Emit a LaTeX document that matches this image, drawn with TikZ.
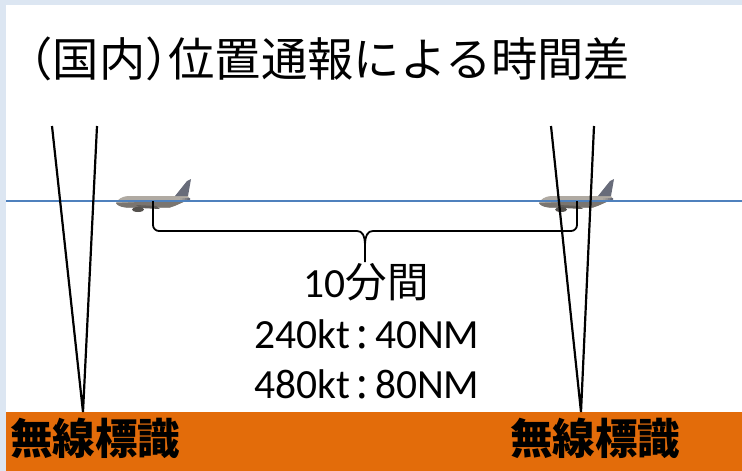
\documentclass[tikz,border=0pt]{standalone}
\usepackage{fontspec}
\setmainfont{Carlito}
\newfontfamily\jpfont{Noto Sans CJK JP}
\newfontfamily\jphalf[RawFeature=+halt]{Noto Sans CJK JP}
\usetikzlibrary{calc}

\definecolor{framebg}{RGB}{220,230,242}
\definecolor{ground}{RGB}{227,108,10}
\definecolor{skyline}{RGB}{79,129,189}
\definecolor{bodylight}{RGB}{176,170,162}
\definecolor{bodydark}{RGB}{122,117,112}
\definecolor{finblue}{RGB}{104,108,122}

% spaced colon between speed and distance
\newcommand{\jpcolon}{\hspace{0.16em}{\jpfont :}\hspace{0.16em}}

\tikzset{
  radioline/.style={line width=2.2pt, black},
  flightlevel/.style={line width=2pt, skyline},
  bracket/.style={line width=1.8pt, black},
  caption/.style={inner sep=0pt, font=\fontsize{41.5}{46}\selectfont},
  groundlabel/.style={inner sep=0pt, font=\jpfont\bfseries\fontsize{42.5}{46}\selectfont},
  airliner/.pic={
    % fuselage
    \fill[bodylight] (0,0) .. controls (2,-4) and (6,-6.5) .. (12,-7)
      -- (60,-7) -- (70,-7.5) -- (73,-6) -- (73,-3)
      .. controls (66,-1) and (60,3) .. (54,4.5) -- (10,4.5)
      .. controls (4,4) and (1,2) .. (0,0) -- cycle;
    \fill[bodydark] (0,0) -- (73,-3) .. controls (66,-1) and (60,3) .. (54,4.5)
      -- (10,4.5) .. controls (4,4) and (1,2) .. (0,0) -- cycle;
    % tail fin
    \fill[finblue] (59,-7) -- (71,-22) -- (75,-24) -- (72,-7) -- cycle;
    % horizontal stabiliser
    \fill[finblue] (64,-4) -- (74,-5) -- (74,-3) -- cycle;
    % wing and engine
    \fill[bodydark!80!black] (20,2) -- (40,3) -- (44,6) -- (24,5) -- cycle;
    \fill[bodydark!70!black] (22,6.5) ellipse (6 and 2.5);
  }
}

\begin{document}
\begin{tikzpicture}[x=1pt, y=-1pt]
  \useasboundingbox (0,0) rectangle (742,471);
  % slide frame and ground band
  \fill[framebg] (0,0) rectangle (742,471);
  \fill[white] (6,5) rectangle (742,471);
  \fill[ground] (6,412) rectangle (742,471);

  % title
  \node[inner sep=0pt, anchor=base, font=\jpfont\fontsize{46.3}{50}\selectfont]
    (title) at (330,76) {{\jphalf （}国内{\jphalf ）}位置通報による時間差};

  % aircraft
  \pic at (116,203) {airliner};
  \pic at (539,203) {airliner};

  % flight level
  \coordinate (levelW) at (6,201);
  \coordinate (levelE) at (742,201);
  \draw[flightlevel] (levelW) -- (levelE);

  % radio beacons and their cones
  \coordinate (beaconA) at (83,412);
  \coordinate (coneA1) at (52,126);
  \coordinate (coneA2) at (97,126);
  \coordinate (beaconB) at (581,412);
  \coordinate (coneB1) at (551,126);
  \coordinate (coneB2) at (594,126);
  \draw[radioline] (coneA1) -- (beaconA) -- (coneA2);
  \draw[radioline] (coneB1) -- (beaconB) -- (coneB2);

  % brace between the two positions
  \coordinate (lhook) at (153,201);
  \coordinate (rhook) at (577,201);
  \coordinate (btip) at (365,262);
  \draw[bracket, rounded corners=6pt] (lhook) |- ($(btip)+(-14,-31)$)
    [sharp corners] .. controls ($(btip)+(-3,-31)$) and ($(btip)+(0,-27)$) .. ($(btip)+(0,-16)$)
    -- (btip);
  \draw[bracket, rounded corners=6pt] (rhook) |- ($(btip)+(14,-31)$)
    [sharp corners] .. controls ($(btip)+(3,-31)$) and ($(btip)+(0,-27)$) .. ($(btip)+(0,-16)$);

  % captions
  \node[caption, anchor=base] (span) at (366,297) {10{\jpfont 分間}};
  \node[caption, anchor=base] (slow) at (367,348) {240kt\jpcolon 40NM};
  \node[caption, anchor=base] (fast) at (367,398) {480kt\jpcolon 80NM};

  % beacon labels
  \node[groundlabel, anchor=base west] (labelA) at (10,454) {無線標識};
  \node[groundlabel, anchor=base west] (labelB) at (510,454) {無線標識};
\end{tikzpicture}
\end{document}
